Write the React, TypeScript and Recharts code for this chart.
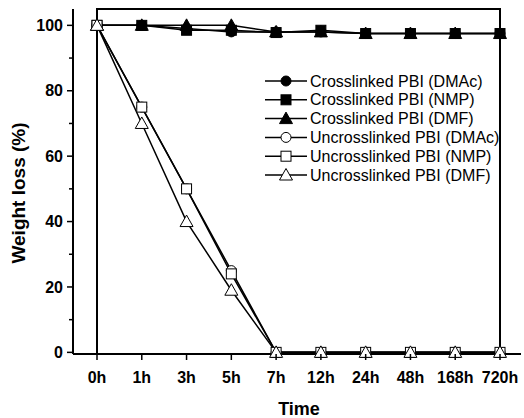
import React from 'react';
import { LineChart, Line, XAxis, YAxis, ReferenceArea } from 'recharts';

const categories = ['0h', '1h', '3h', '5h', '7h', '12h', '24h', '48h', '168h', '720h'];
const crossDMAc = [100, 100, 99, 98, 98, 98, 97.5, 97.5, 97.5, 97.5];
const crossNMP = [100, 100, 98.5, 98.5, 97.8, 98.5, 97.5, 97.5, 97.5, 97.5];
const crossDMF = [100, 100, 100, 100, 98, 98, 97.5, 97.5, 97.5, 97.5];
const uncrossDMAc = [100, 75, 50, 25, 0, 0, 0, 0, 0, 0];
const uncrossNMP = [100, 75, 50, 24, 0, 0, 0, 0, 0, 0];
const uncrossDMF = [100, 70, 40, 19, 0, 0, 0, 0, 0, 0];
const yTicks = [0, 10, 20, 30, 40, 50, 60, 70, 80, 90, 100];
const yDomain = [-0.5, 105];

const seriesDefs = [
  { key: 'cDMAc', name: 'Crosslinked PBI (DMAc)', values: crossDMAc, shape: 'circle', filled: true },
  { key: 'cNMP', name: 'Crosslinked PBI (NMP)', values: crossNMP, shape: 'square', filled: true },
  { key: 'cDMF', name: 'Crosslinked PBI (DMF)', values: crossDMF, shape: 'triangle', filled: true },
  { key: 'uDMAc', name: 'Uncrosslinked PBI (DMAc)', values: uncrossDMAc, shape: 'circle', filled: false },
  { key: 'uNMP', name: 'Uncrosslinked PBI (NMP)', values: uncrossNMP, shape: 'square', filled: false },
  { key: 'uDMF', name: 'Uncrosslinked PBI (DMF)', values: uncrossDMF, shape: 'triangle', filled: false },
];

const data = categories.map((c, i) => {
  const row: any = { t: c };
  seriesDefs.forEach((s) => { row[s.key] = s.values[i]; });
  return row;
});

const FONT = '"Liberation Sans", Arial, sans-serif';

function Marker({ cx, cy, shape, filled }: any) {
  const fill = filled ? '#000' : '#fff';
  if (shape === 'circle') return <circle cx={cx} cy={cy} r={5} fill={fill} stroke="#000" strokeWidth={1} />;
  if (shape === 'square') return <rect x={cx - 5} y={cy - 5} width={10} height={10} fill={fill} stroke="#000" strokeWidth={1} />;
  return <polygon points={`${cx},${cy - 6.5} ${cx - 6.5},${cy + 5} ${cx + 6.5},${cy + 5}`} fill={fill} stroke="#000" strokeWidth={1} />;
}

const YTick = (props: any) => {
  const { x, y, payload } = props;
  const v = payload.value;
  const major = v % 20 === 0;
  return (
    <g>
      <line x1={x} x2={x - (major ? 6 : 4)} y1={y} y2={y} stroke="#000" strokeWidth={1.5} />
      {major && (
        <text x={x - 10} y={y} dy="0.35em" textAnchor="end" fontFamily={FONT} fontWeight="bold" fontSize={16} fill="#000">
          {v}
        </text>
      )}
    </g>
  );
};

const XTick = (props: any) => {
  const { x, y, payload } = props;
  return (
    <g>
      <line x1={x} x2={x} y1={y} y2={y + 6} stroke="#000" strokeWidth={1.5} />
      <text x={x} y={y + 23} dy="0.35em" textAnchor="middle" fontFamily={FONT} fontWeight="bold" fontSize={16} fill="#000">
        {payload.value}
      </text>
    </g>
  );
};

const XLabel = () => (
  <text x={299} y={415} textAnchor="middle" fontFamily={FONT} fontWeight="bold" fontSize={18} fill="#000">Time</text>
);

const YLabel = () => (
  <text transform="translate(25,193) rotate(-90)" textAnchor="middle" fontFamily={FONT} fontWeight="bold" fontSize={19} fill="#000">
    Weight loss (%)
  </text>
);

const LegendBox = () => (
  <svg width={260} height={120} style={{ position: 'absolute', left: 262, top: 70, overflow: 'visible' }}>
    {seriesDefs.map((s, i) => {
      const y = 11 + i * 18.8;
      return (
        <g key={s.key}>
          <line x1={3} x2={45} y1={y} y2={y} stroke="#000" strokeWidth={1.5} />
          <Marker cx={24} cy={y} shape={s.shape} filled={s.filled} />
          <text x={48} y={y} dy="0.35em" fontFamily={FONT} fontSize={16} fill="#000">{s.name}</text>
        </g>
      );
    })}
  </svg>
);

export default function App() {
  return (
    <div style={{ position: 'absolute', left: 0, top: 0, width: 524, height: 418, background: '#fff' }}>
      <LineChart width={524} height={418} data={data} margin={{ top: 9, right: 3, bottom: 0, left: 0 }}>
        <XAxis
          xAxisId="x"
          dataKey="t"
          type="category"
          padding={{ left: 24, right: 21 }}
          height={64}
          axisLine={{ stroke: '#000', strokeWidth: 2 }}
          tickLine={false}
          tickSize={0}
          tickMargin={0}
          tick={<XTick />}
          interval={0}
          label={{ content: () => <XLabel /> }}
        />
        <YAxis
          yAxisId="y"
          type="number"
          domain={yDomain}
          ticks={yTicks}
          width={73}
          axisLine={{ stroke: '#000', strokeWidth: 2 }}
          tickLine={false}
          tickSize={0}
          tickMargin={0}
          tick={<YTick />}
          interval={0}
          label={{ content: () => <YLabel /> }}
        />
        <ReferenceArea xAxisId="x" yAxisId="y" y1={yDomain[0]} y2={yDomain[1]} fill="none" stroke="#000" strokeWidth={2} ifOverflow="visible" />
        {seriesDefs.map((s) => (
          <Line
            key={s.key}
            xAxisId="x"
            yAxisId="y"
            dataKey={s.key}
            name={s.name}
            stroke="#000"
            strokeWidth={1.5}
            isAnimationActive={false}
            dot={(p: any) => <Marker key={`${s.key}-${p.index}`} cx={p.cx} cy={p.cy} shape={s.shape} filled={s.filled} />}
            activeDot={false}
          />
        ))}
      </LineChart>
      <LegendBox />
    </div>
  );
}
